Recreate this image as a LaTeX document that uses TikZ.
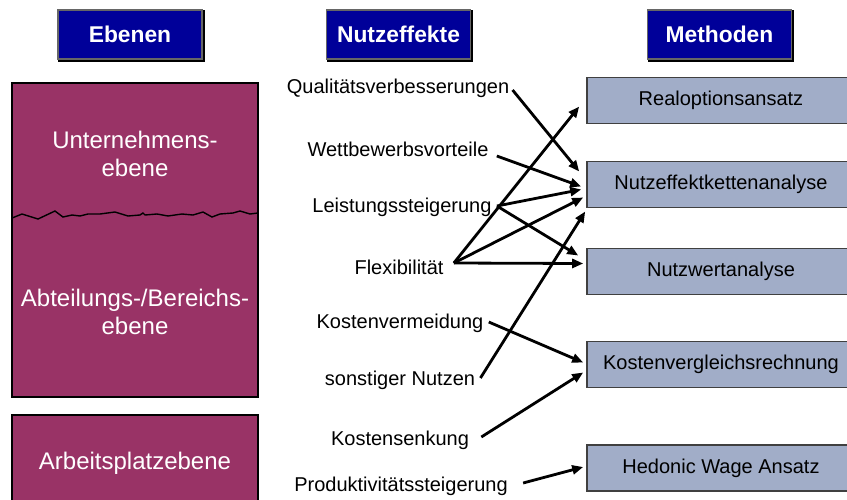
\documentclass[tikz,border=0pt]{standalone}
\usepackage{fontspec}
\setmainfont{Liberation Sans}
\usetikzlibrary{arrows.meta,calc}
\definecolor{hdr}{HTML}{000099}
\definecolor{lvl}{HTML}{993366}
\definecolor{mth}{HTML}{A1ADC8}
\definecolor{mthline}{HTML}{404040}
\begin{document}
\begin{tikzpicture}[x=0.5pt,y=-0.5pt,
  hdrbox/.style={draw=black!60, line width=0.6pt, fill=hdr, text=white,
    font=\bfseries\fontsize{11.4}{13}\selectfont,
    minimum width=72pt, minimum height=24.5pt, inner sep=0pt, text depth=0pt},
  hdrshadow/.style={black, line width=0.9pt},
  lvlbox/.style={draw=black, line width=0.6pt, fill=lvl, minimum width=123pt, inner sep=0pt},
  lvltext/.style={text=white, align=center, font=\fontsize{12}{14}\selectfont, inner sep=0pt},
  mthbox/.style={draw=mthline, line width=0.8pt, fill=mth, minimum width=134pt,
    minimum height=23pt, inner sep=0pt, font=\fontsize{10}{12}\selectfont},
  efftext/.style={font=\fontsize{10}{12}\selectfont, inner sep=0pt},
  conn/.style={line width=1.4pt, -{Triangle[length=5.5pt,width=4.5pt]}}]
\useasboundingbox (0,0) rectangle (847,499);
\clip (0,0) rectangle (847,499);
\fill[white] (0,0) rectangle (847,499);

% headers
\node[hdrbox] (h1) at (130,34.5) {Ebenen};
\node[hdrbox] (h2) at (398.5,34.5) {Nutzeffekte};
\node[hdrbox] (h3) at (719.5,34.5) {Methoden};
\foreach \h in {h1,h2,h3}{
  \draw[hdrshadow] ($(\h.north east)+(1,1)$) -- ($(\h.south east)+(1,1)$) -- ($(\h.south west)+(1,1)$);
}

% levels
\node[lvlbox, minimum height=157pt] (lv1) at (135,240) {};
\node[lvlbox, minimum height=48.5pt] (lv2) at (135,463.5) {};
\draw[line width=0.7pt] (12,218) -- (22,214) -- (38,219) -- (55,211) -- (63,217) -- (72,215)
  -- (80,216) -- (88,214) -- (100,214) -- (115,212) -- (128,216) -- (140,215) -- (143,213)
  -- (145,215) -- (157,214) -- (168,216) -- (182,214) -- (193,215) -- (203,212) -- (212,217)
  -- (220,214) -- (233,213) -- (240,211) -- (250,214) -- (258,213);
\node[lvltext] (t1) at (135,154) {Unternehmens-\\ebene};
\node[lvltext] (t2) at (135,312) {Abteilungs-/Bereichs-\\ebene};
\node[lvltext] (t3) at (135,463) {Arbeitsplatzebene};

% methods
\node[mthbox] (ro) at (721,100.5) {Realoptionsansatz};
\node[mthbox] (nk) at (721,184.5) {Nutzeffektkettenanalyse};
\node[mthbox] (nw) at (721,271.5) {Nutzwertanalyse};
\node[mthbox] (kr) at (721,364.5) {Kostenvergleichsrechnung};
\node[mthbox] (hw) at (721,468) {Hedonic Wage Ansatz};

% effects
\node[efftext] (q) at (398,88) {Qualitätsverbesserungen};
\node[efftext] (w) at (398,149) {Wettbewerbsvorteile};
\node[efftext] (l) at (402,207) {Leistungssteigerung};
\node[efftext] (f) at (399,267) {Flexibilität};
\node[efftext] (kv) at (400,323) {Kostenvermeidung};
\node[efftext] (sn) at (400,380) {sonstiger Nutzen};
\node[efftext] (ks) at (400,440) {Kostensenkung};
\node[efftext] (p) at (401,486) {Produktivitätssteigerung};

% start points
\coordinate (qs) at ($(q.east)+(3,2)$);
\coordinate (ws) at ($(w.east)+(8,7)$);
\coordinate (ls) at ($(l.east)+(5,-1)$);
\coordinate (fs) at ($(f.east)+(10,-4)$);
\coordinate (kvs) at ($(kv.east)+(5,-1)$);
\coordinate (sns) at ($(sn.east)+(5,-2)$);
\coordinate (kss) at ($(ks.east)+(12,-3)$);
\coordinate (ps) at ($(p.east)+(15,-3)$);

% connectors
\draw[conn] (qs) -- ($(nk.west)+(-7,-13)$);
\draw[conn] (ws) -- ($(nk.west)+(-5,2)$);
\draw[conn] (ls) -- ($(nk.west)+(-5,5)$);
\draw[conn] (ls) -- ($(nw.west)+(-8,-16)$);
\draw[conn] (fs) -- ($(ro.west)+(-7,6)$);
\draw[conn] (fs) -- ($(nk.west)+(-3,13)$);
\draw[conn] (fs) -- ($(nw.west)+(-3,-8)$);
\draw[conn] (sns) -- ($(nk.west)+(-1,27)$);
\draw[conn] (kvs) -- ($(kr.west)+(-3,-2)$);
\draw[conn] (kss) -- ($(kr.west)+(-3,8)$);
\draw[conn] (ps) -- ($(hw.west)+(-3,-1)$);
\end{tikzpicture}
\end{document}
